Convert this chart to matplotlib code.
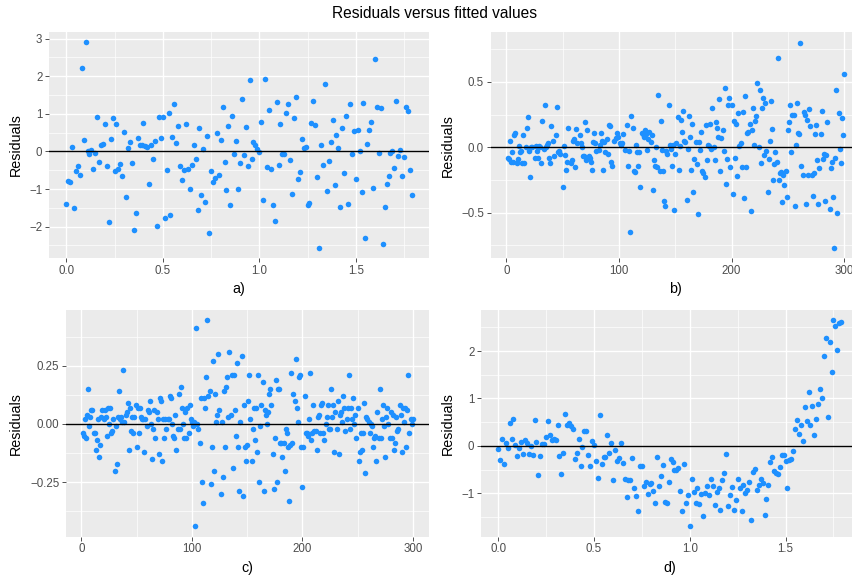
import matplotlib
matplotlib.use("Agg")
import matplotlib.pyplot as plt
from matplotlib.ticker import MultipleLocator

plt.rcParams["font.family"] = ["Liberation Sans", "DejaVu Sans"]
plt.rcParams["axes.unicode_minus"] = True

# fitted values shared by panels a) and d)
fitted_grid = [
    0.00, 0.01, 0.02, 0.03, 0.04, 0.05, 0.06, 0.07, 0.08, 0.09,
    0.10, 0.11, 0.12, 0.13, 0.14, 0.15, 0.16, 0.17, 0.18, 0.19,
    0.20, 0.21, 0.22, 0.23, 0.24, 0.25, 0.26, 0.27, 0.28, 0.29,
    0.30, 0.31, 0.32, 0.33, 0.34, 0.35, 0.36, 0.37, 0.38, 0.39,
    0.40, 0.41, 0.42, 0.43, 0.44, 0.45, 0.46, 0.47, 0.48, 0.49,
    0.50, 0.51, 0.52, 0.53, 0.54, 0.55, 0.56, 0.57, 0.58, 0.59,
    0.60, 0.61, 0.62, 0.63, 0.64, 0.65, 0.66, 0.67, 0.68, 0.69,
    0.70, 0.71, 0.72, 0.73, 0.74, 0.75, 0.76, 0.77, 0.78, 0.79,
    0.80, 0.81, 0.82, 0.83, 0.84, 0.85, 0.86, 0.87, 0.88, 0.89,
    0.90, 0.91, 0.92, 0.93, 0.94, 0.95, 0.96, 0.97, 0.98, 0.99,
    1.00, 1.01, 1.02, 1.03, 1.04, 1.05, 1.06, 1.07, 1.08, 1.09,
    1.10, 1.11, 1.12, 1.13, 1.14, 1.15, 1.16, 1.17, 1.18, 1.19,
    1.20, 1.21, 1.22, 1.23, 1.24, 1.25, 1.26, 1.27, 1.28, 1.29,
    1.30, 1.31, 1.32, 1.33, 1.34, 1.35, 1.36, 1.37, 1.38, 1.39,
    1.40, 1.41, 1.42, 1.43, 1.44, 1.45, 1.46, 1.47, 1.48, 1.49,
    1.50, 1.51, 1.52, 1.53, 1.54, 1.55, 1.56, 1.57, 1.58, 1.59,
    1.60, 1.61, 1.62, 1.63, 1.64, 1.65, 1.66, 1.67, 1.68, 1.69,
    1.70, 1.71, 1.72, 1.73, 1.74, 1.75, 1.76, 1.77, 1.78, 1.79,
]

# a) residuals
a_resid = [
    -1.41, -0.79, -0.81, 0.13, -1.50, -0.53, -0.39, -0.64, 2.22, 0.31,
    2.90, 0.00, -0.06, 0.04, -0.47, -0.03, 0.91, -0.28, 0.17, 0.20,
    0.72, -0.38, -1.87, 0.34, 0.88, -0.53, 0.72, -0.46, -0.34, -0.65,
    0.52, -1.22, 0.09, 0.25, -0.31, -2.10, -1.64, 0.35, 0.18, 0.18,
    0.75, 0.14, 0.11, -0.87, 0.18, -0.19, 0.27, -1.99, 0.92, 0.36,
    0.91, -1.76, -0.49, 1.03, -1.68, 0.38, 1.25, 0.23, 0.67, -0.40,
    -0.76, -0.49, 0.73, -0.46, -1.01, -0.35, 0.18, -0.20, -1.57, 0.61,
    -1.17, 0.07, -1.34, 0.42, -2.17, -0.52, -0.82, -0.72, 0.48, -0.63,
    0.29, 1.17, -0.27, -1.03, 0.67, -1.43, 0.95, -0.06, 0.27, -0.99,
    -0.32, 1.39, -0.10, 0.64, -0.40, 1.89, -0.19, 0.26, 0.18, 0.06,
    -0.02, 0.78, -1.29, 1.92, -0.42, 1.09, -0.46, -1.43, -1.86, 1.32,
    -0.36, 0.74, -0.08, -0.08, 1.03, 1.26, -0.24, -1.14, 0.89, 1.45,
    -0.74, -0.56, 0.33, 0.09, 0.12, -1.43, -1.36, 0.75, 1.33, 0.70,
    -0.69, -2.56, 0.16, -0.35, 1.80, -1.05, -0.25, 0.24, 0.83, -0.89,
    0.43, 0.10, -1.47, 0.61, -0.58, 0.95, -1.40, 1.26, -0.06, 0.54,
    -0.73, 0.57, 0.01, -1.08, 1.28, -2.30, 0.19, 0.57, 0.77, -0.98,
    2.45, 1.19, -0.03, 1.16, -2.46, -1.47, -0.86, -0.65, -0.04, 0.01,
    -0.43, 1.35, -0.12, 0.03, -0.65, -0.16, 1.18, 1.07, -0.50, -1.15,
]

# b) observation index and residuals
b_obs = [
    1, 2, 3, 4, 5, 6, 7, 8, 9, 10, 11, 12, 13, 14, 15, 16, 17, 18, 19, 20,
    21, 22, 23, 25, 26, 27, 28, 29, 30, 31, 32, 33, 34, 35, 36, 37, 38, 39, 40, 41,
    42, 44, 45, 46, 47, 48, 50, 51, 52, 53, 54, 55, 57, 58, 59, 60, 61, 62, 63, 65,
    66, 67, 68, 69, 70, 71, 72, 73, 74, 75, 76, 77, 78, 79, 80, 82, 83, 84, 85, 86,
    87, 88, 89, 90, 91, 92, 93, 94, 96, 97, 98, 99, 101, 102, 103, 104, 105, 107, 108, 109,
    110, 111, 112, 113, 114, 115, 116, 117, 118, 119, 120, 121, 122, 123, 124, 125, 126, 127, 128, 129,
    130, 131, 132, 133, 134, 135, 136, 137, 138, 139, 140, 141, 142, 143, 144, 145, 146, 147, 148, 149,
    150, 151, 152, 153, 154, 155, 156, 157, 158, 159, 160, 161, 162, 163, 164, 165, 166, 167, 168, 169,
    170, 171, 172, 173, 174, 175, 176, 177, 178, 179, 180, 181, 182, 183, 184, 185, 186, 187, 188, 189,
    190, 191, 192, 193, 194, 195, 196, 197, 198, 199, 200, 201, 202, 203, 204, 205, 206, 207, 208, 209,
    210, 211, 212, 213, 214, 215, 216, 217, 218, 219, 220, 221, 222, 223, 224, 225, 226, 227, 228, 229,
    230, 231, 232, 233, 234, 235, 236, 237, 238, 239, 240, 241, 242, 243, 244, 245, 246, 247, 248, 249,
    250, 251, 252, 253, 254, 255, 256, 257, 258, 259, 260, 261, 262, 263, 264, 265, 266, 267, 268, 269,
    270, 271, 272, 273, 274, 275, 276, 277, 278, 279, 280, 281, 282, 283, 284, 285, 287, 288, 289, 290,
    291, 292, 293, 294, 295, 296, 297, 298, 299, 300,
]
b_resid = [
    -0.08, -0.09, 0.05, -0.11, -0.04, -0.11, 0.09, 0.11, -0.12, -0.09, 0.01, -0.04, -0.03, -0.12, 0.09, -0.12, 0.00, 0.15, 0.23, -0.03,
    -0.23, 0.00, 0.00, -0.08, 0.01, -0.03, -0.08, 0.01, 0.00, -0.12, 0.20, -0.01, 0.32, 0.00, 0.02, 0.03, -0.08, -0.12, 0.16, 0.05,
    -0.07, 0.09, 0.31, -0.04, -0.03, -0.05, -0.30, 0.01, -0.06, -0.17, -0.11, 0.15, -0.12, -0.10, 0.05, 0.06, -0.15, 0.14, 0.03, 0.09,
    0.03, 0.00, -0.07, -0.07, 0.19, -0.10, 0.13, -0.07, -0.08, -0.11, -0.17, 0.04, 0.11, 0.03, -0.03, -0.02, 0.02, 0.11, 0.05, -0.17,
    0.04, -0.04, 0.06, -0.05, 0.17, 0.16, -0.11, -0.14, 0.05, 0.07, 0.11, 0.08, 0.03, 0.02, 0.03, 0.10, -0.02, 0.17, -0.14, -0.03,
    -0.65, 0.24, 0.15, -0.18, -0.19, 0.02, -0.04, -0.14, -0.04, -0.30, 0.11, 0.10, 0.08, 0.13, 0.10, -0.02, 0.06, 0.12, 0.04, 0.09,
    -0.33, -0.10, -0.14, 0.00, -0.15, 0.40, -0.18, 0.20, -0.02, -0.18, -0.41, -0.45, -0.03, -0.05, 0.32, 0.02, -0.01, -0.14, 0.02, -0.48,
    -0.05, 0.03, 0.23, -0.17, 0.01, 0.21, 0.12, 0.28, 0.05, 0.04, -0.40, -0.01, 0.24, 0.08, -0.17, 0.18, -0.34, -0.09, 0.04, -0.13,
    -0.51, 0.04, -0.02, 0.12, -0.18, -0.20, -0.23, 0.17, -0.10, 0.02, 0.01, 0.18, -0.01, 0.30, 0.00, -0.10, 0.19, 0.15, 0.08, 0.37,
    -0.18, 0.07, 0.13, -0.03, 0.45, -0.28, -0.09, 0.32, 0.38, -0.15, 0.32, -0.36, 0.20, -0.08, 0.18, -0.22, 0.26, 0.01, 0.03, -0.15,
    0.27, -0.39, 0.39, -0.15, 0.11, 0.12, 0.18, -0.49, 0.13, 0.30, 0.02, 0.20, 0.24, 0.49, 0.00, 0.44, -0.12, 0.30, 0.38, -0.06,
    0.34, -0.03, -0.34, -0.09, 0.05, 0.35, 0.14, -0.25, -0.13, -0.04, -0.11, 0.68, -0.25, -0.20, -0.19, -0.42, -0.21, -0.29, -0.18, -0.38,
    0.13, 0.19, 0.32, -0.04, 0.25, 0.25, -0.45, 0.02, 0.34, 0.11, 0.10, 0.80, -0.14, -0.21, 0.27, 0.25, -0.43, 0.21, -0.21, 0.29,
    0.16, -0.21, -0.37, -0.20, 0.10, 0.17, -0.10, -0.43, -0.16, 0.10, 0.28, -0.09, -0.05, -0.41, -0.06, 0.19, -0.47, -0.16, -0.11, -0.38,
    -0.77, -0.08, 0.44, -0.50, 0.26, -0.01, -0.12, 0.22, 0.09, 0.56,
]

# c) residuals, one per observation 1..300
c_resid = [
    -0.04, -0.05, 0.02, -0.06, 0.04, 0.15, -0.01, 0.03, 0.06, 0.06,
    -0.04, -0.04, -0.11, -0.07, 0.02, -0.14, -0.09, 0.03, 0.06, 0.02,
    0.06, 0.03, -0.05, 0.07, 0.00, 0.07, -0.04, -0.03, 0.02, -0.20,
    -0.01, -0.17, 0.03, 0.14, 0.02, 0.03, 0.01, 0.23, 0.01, 0.04,
    0.05, 0.09, -0.11, 0.07, -0.03, 0.03, -0.04, 0.03, 0.08, -0.10,
    0.07, -0.04, 0.07, 0.03, 0.02, 0.02, -0.12, 0.02, -0.01, 0.06,
    0.05, 0.10, 0.00, -0.15, -0.02, 0.06, -0.06, 0.05, 0.02, -0.13,
    0.11, 0.10, -0.16, 0.02, -0.06, 0.02, -0.02, 0.02, 0.02, 0.12,
    0.11, 0.00, -0.05, -0.06, 0.04, -0.11, -0.02, 0.13, -0.02, 0.16,
    0.07, 0.00, -0.06, 0.05, -0.06, 0.07, -0.04, 0.08, 0.02, 0.01,
    -0.01, 0.01, -0.44, 0.41, 0.00, -0.02, -0.08, 0.11, -0.25, -0.34,
    0.11, 0.07, 0.20, 0.445, 0.12, 0.14, -0.26, -0.10, 0.27, -0.20,
    0.13, 0.01, 0.04, 0.30, 0.06, -0.30, 0.01, -0.23, 0.14, -0.10,
    0.16, 0.20, 0.03, 0.31, 0.04, 0.21, -0.19, 0.21, 0.06, -0.05,
    0.26, -0.10, -0.29, 0.01, 0.29, -0.31, 0.08, -0.10, -0.16, -0.09,
    0.10, 0.21, 0.02, -0.16, -0.02, 0.07, -0.07, 0.07, -0.12, 0.21,
    -0.25, -0.01, 0.08, 0.18, -0.29, 0.06, 0.04, 0.00, 0.05, 0.13,
    0.15, 0.08, -0.13, -0.28, -0.06, 0.19, -0.25, 0.15, 0.15, -0.08,
    -0.08, -0.14, -0.08, -0.20, -0.02, -0.04, -0.10, -0.33, -0.09, 0.22,
    -0.08, 0.13, 0.10, 0.28, 0.07, 0.01, 0.20, 0.21, -0.10, -0.27,
    -0.10, 0.12, -0.04, -0.04, -0.05, 0.02, 0.22, -0.07, -0.04, 0.08,
    -0.03, -0.03, -0.11, 0.03, 0.04, -0.04, 0.08, 0.09, -0.04, -0.07,
    0.00, 0.03, 0.08, -0.02, -0.02, 0.15, 0.03, 0.08, -0.12, 0.05,
    -0.02, 0.10, -0.13, 0.04, 0.05, 0.01, 0.12, 0.07, -0.03, 0.02,
    0.07, 0.21, -0.02, 0.07, 0.02, 0.11, 0.00, 0.04, -0.06, 0.07,
    -0.16, -0.12, -0.04, -0.11, -0.04, 0.09, -0.21, 0.03, 0.02, 0.01,
    -0.04, 0.00, -0.01, -0.10, -0.06, -0.05, -0.16, 0.05, -0.06, 0.15,
    -0.06, 0.02, 0.08, -0.01, -0.14, 0.03, 0.07, 0.00, -0.06, 0.05,
    -0.06, 0.04, -0.11, -0.08, 0.03, -0.03, -0.02, 0.08, 0.04, -0.12,
    0.07, 0.01, 0.07, -0.10, 0.06, 0.21, -0.04, 0.02, 0.00, 0.02,
]
c_obs = list(range(1, len(c_resid) + 1))

# d) residuals
d_resid = [
    -0.06, -0.30, 0.14, -0.39, 0.07, -0.04, 0.49, 0.14, 0.56, 0.02,
    -0.21, -0.05, 0.08, -0.17, 0.13, 0.06, -0.18, -0.01, -0.20, 0.54,
    0.08, -0.62, -0.21, 0.04, 0.04, 0.18, 0.52, 0.22, 0.13, 0.14,
    0.13, 0.44, -0.22, -0.60, -0.15, 0.68, 0.43, 0.48, 0.41, 0.36,
    -0.28, -0.15, 0.15, -0.43, -0.03, 0.32, 0.32, -0.19, -0.42, 0.11,
    0.01, -0.33, -0.67, 0.66, -0.39, -0.24, -0.23, 0.22, -0.15, 0.07,
    -0.72, -0.08, -0.31, -0.26, 0.06, -0.36, -0.70, -1.08, -0.72, -0.73,
    -0.26, -0.89, -1.05, -1.38, -0.43, -0.43, -0.85, -0.77, -1.01, -0.80,
    -0.78, -0.96, -1.20, -0.23, -0.84, -0.64, -0.41, -1.18, -1.20, -0.77,
    -0.28, -0.35, -0.51, -0.50, -0.47, -0.96, -1.37, -0.39, -1.21, -1.04,
    -1.70, -0.69, -0.97, -1.20, -0.90, -1.23, -1.01, -1.49, -0.99, -0.85,
    -1.04, -0.70, -0.85, -1.24, -0.98, -0.89, -1.35, -0.73, -0.58, -0.18,
    -1.26, -1.04, -0.87, -1.35, -1.15, -0.70, -0.89, -1.38, -0.82, -1.00,
    -0.93, -0.77, -1.56, -0.55, -0.49, -0.94, -0.82, -0.71, -0.79, -1.46,
    -1.13, -0.82, -0.34, -0.23, -0.54, -0.57, -0.59, -0.45, -0.19, -0.20,
    -0.31, -0.90, -0.29, -0.27, -0.11, 0.35, 0.55, 0.25, 0.44, 0.11,
    0.82, 0.53, 1.13, 0.43, 0.85, 0.23, 0.56, 0.88, 1.19, 1.02,
    1.90, 2.28, 0.61, 2.20, 1.55, 2.65, 2.54, 2.03, 2.60, 2.61,
]

W, H = 852, 577
fig = plt.figure(figsize=(W / 100, H / 100), dpi=100)


def expand(values, mult=0.05):
    # same padding rule as ggplot's continuous scales
    lo, hi = min(values), max(values)
    pad = mult * (hi - lo)
    return lo - pad, hi + pad


def panel(box, ylab_x, x, y, label, xstep, ystep):
    # box is (left, top, right, bottom) in pixels, ylab_x is the pixel column
    # where the right side of the rotated "Residuals" label sits
    left, top, right, bottom = box
    width, height = right - left, bottom - top
    ax = fig.add_axes([left / W, 1 - bottom / H, width / W, height / H])
    ax.set_facecolor("#EBEBEB")
    ax.scatter(x, y, s=16, color="#1E90FF", linewidths=0, zorder=2)
    ax.axhline(0, color="black", lw=1.0, zorder=3)
    ax.set_xlim(*expand(x))
    ax.set_ylim(*expand(y))

    ax.xaxis.set_major_locator(MultipleLocator(xstep))
    ax.xaxis.set_minor_locator(MultipleLocator(xstep / 2))
    ax.yaxis.set_major_locator(MultipleLocator(ystep))
    ax.yaxis.set_minor_locator(MultipleLocator(ystep / 2))
    ax.grid(which="major", color="white", lw=1.0)
    ax.grid(which="minor", color="white", lw=0.5)
    ax.set_axisbelow(True)
    for spine in ax.spines.values():
        spine.set_visible(False)
    ax.tick_params(which="major", length=2.6, width=0.6, color="#333333",
                   labelsize=8.3, labelcolor="#4D4D4D", pad=2.2)
    ax.tick_params(which="minor", length=0)

    ax.set_ylabel("Residuals", fontsize=10.3, color="black")
    ax.yaxis.set_label_coords((ylab_x - left) / width, 0.5)
    ax.set_xlabel(label, fontsize=10.3, color="black")
    ax.xaxis.set_label_coords(0.5, -24 / height)
    return ax


panel((49, 32, 429, 258), 23, fitted_grid, a_resid, "a)", 0.5, 1)
panel((490.7, 32.3, 861, 258.3), 455, b_obs, b_resid, "b)", 100, 0.5)
panel((66, 310, 429.3, 536.7), 23, c_obs, c_resid, "c)", 100, 0.25)
panel((481, 310, 858.3, 536.7), 455, fitted_grid, d_resid, "d)", 0.5, 1)

fig.text(435 / W, 1 - 14 / H, "Residuals versus fitted values",
         ha="center", va="center", fontsize=11.2)

fig.savefig("out.png", dpi=100)
